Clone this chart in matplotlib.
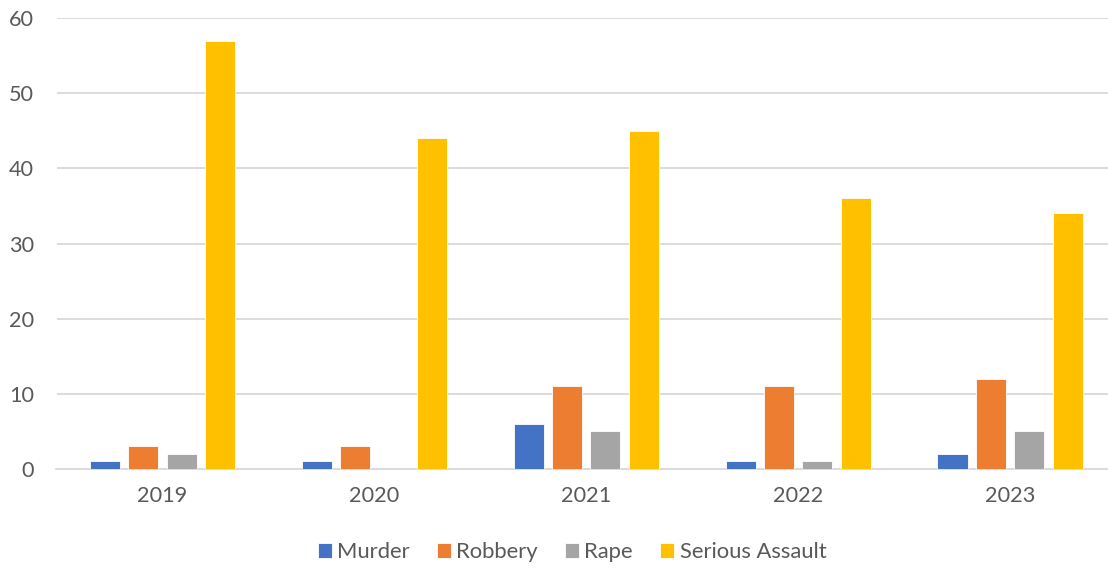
import matplotlib
matplotlib.use("Agg")
import matplotlib.pyplot as plt
import numpy as np

years = ["2019", "2020", "2021", "2022", "2023"]
series_names = ["Murder", "Robbery", "Rape", "Serious Assault"]
murder = [1, 1, 6, 1, 2]
robbery = [3, 3, 11, 11, 12]
rape = [2, 0, 5, 1, 5]
serious_assault = [57, 44, 45, 36, 34]
colors = ["#4472C4", "#ED7D31", "#A5A5A5", "#FFC000"]

plt.rcParams['font.family'] = ['Lato', 'DejaVu Sans']
text_color = "#595959"

fig = plt.figure(figsize=(11.08, 5.68), dpi=100)
left_px = 56.5
cat_w = 211.9
ax = fig.add_axes([left_px/1108, 99/568, (cat_w*5)/1108, (469-18)/568])

x = np.arange(len(years))
bw = 0.142
step = 0.181
all_series = [murder, robbery, rape, serious_assault]
for i, (vals, name, c) in enumerate(zip(all_series, series_names, colors)):
    offs = (i - 1.5) * step
    ax.bar(x + offs, vals, width=bw, color=c, label=name, edgecolor="white", linewidth=0.6, zorder=3)

ax.set_xlim(-0.5, len(years) - 0.5)
ax.set_ylim(0, 60)
ax.set_yticks(range(0, 61, 10))
ax.set_xticks(x)
ax.set_xticklabels(years)
ax.yaxis.grid(True, color="#D9D9D9", linewidth=1.3, zorder=0)
ax.set_axisbelow(True)
for s in ["top", "right", "left"]:
    ax.spines[s].set_visible(False)
ax.spines["bottom"].set_color("#D9D9D9")
ax.spines["bottom"].set_linewidth(1.3)
ax.tick_params(axis="both", length=0, labelsize=15.6, labelcolor=text_color)
ax.tick_params(axis="x", pad=12)
ax.tick_params(axis="y", pad=16)

fig.legend(loc="center", bbox_to_anchor=(572/1108, 1 - 552/568), ncol=4, frameon=False,
           fontsize=15.8, labelcolor=text_color, handlelength=0.64, handleheight=0.64,
           handletextpad=0.25, columnspacing=1.23)

fig.savefig("out.png", dpi=100)
